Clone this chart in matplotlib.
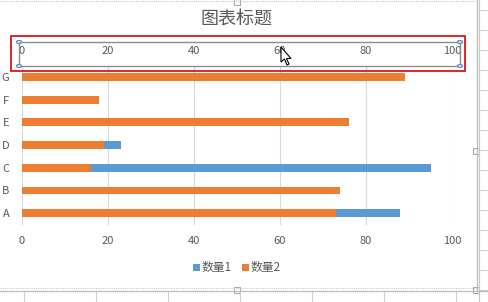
import matplotlib
matplotlib.use("Agg")
import matplotlib.pyplot as plt
from matplotlib.lines import Line2D
from matplotlib.patches import Rectangle, Circle, Polygon

plt.rcParams['font.family'] = ['Noto Sans CJK SC', 'DejaVu Sans']

categories = ["A", "B", "C", "D", "E", "F", "G"]
qty1 = [88, 60, 95, 23, 45, 12, 70]   # blue, primary axis (partly hidden)
qty2 = [73, 74, 16, 19, 76, 18, 89]   # orange, secondary axis
ticks = [0, 20, 40, 60, 80, 100]
title = "图表标题"
names = ["数量1", "数量2"]

W, H = 488, 302
BLUE = "#5B9BD5"
ORANGE = "#ED7D31"
TXT = "#595959"
GRID = "#D9D9D9"


def fx(x):
    return x / W


def fy(y):
    return 1 - y / H


fig = plt.figure(figsize=(W / 100, H / 100), dpi=100)

# spreadsheet background lines outside the chart
for yy in range(10, 302, 20):
    fig.add_artist(Line2D([fx(479), 1], [fy(yy), fy(yy)], color="#D0D0D0", lw=0.8))
fig.add_artist(Line2D([fx(479), fx(479)], [0, 1], color="#C8C8C8", lw=0.8))
for xx in range(24, 479, 72):
    fig.add_artist(Line2D([fx(xx), fx(xx)], [0, fy(291)], color="#D0D0D0", lw=0.8))
fig.add_artist(Line2D([0, fx(477)], [fy(287.5), fy(287.5)], color="#C8C8C8", lw=0.8, ls=(0, (1, 1))))
fig.add_artist(Line2D([0, 1], [fy(290.5), fy(290.5)], color="#BBBBBB", lw=0.9))
fig.add_artist(Line2D([fx(476.5), fx(476.5)], [fy(0), fy(290)], color="#BBBBBB", lw=0.9))
fig.add_artist(Line2D([0, fx(476)], [fy(1), fy(1)], color="#C8C8C8", lw=0.8, ls=(0, (1, 1))))
for (hx, hy) in [(237, 2), (476, 151), (237, 290), (476, 290)]:
    fig.add_artist(Rectangle((fx(hx - 3), fy(hy + 3)), 6 / W, 6 / H, facecolor="white",
                             edgecolor="#AAAAAA", lw=0.8))

ax = fig.add_axes([fx(22), fy(224.5), 430 / W, 158.8 / H])
y = range(len(categories))
ax.barh(y, qty1, height=0.35, color=BLUE, zorder=2)
ax.set_xlim(0, 100)
ax.set_ylim(-0.5, 6.5)
ax.set_xticks(ticks)
ax.set_yticks(list(y))
ax.set_yticklabels(categories)
ax.xaxis.grid(True, color=GRID, lw=0.8)
ax.set_axisbelow(True)
for s in ax.spines.values():
    s.set_visible(False)
ax.tick_params(axis="both", length=0, colors=TXT, labelsize=8)
ax.tick_params(axis="x", pad=8)
ax.tick_params(axis="y", pad=9)

ax2 = ax.twiny()
ax2.barh(y, qty2, height=0.35, color=ORANGE, zorder=2)
ax2.set_xlim(0, 100)
ax2.set_xticks(ticks)
for s in ax2.spines.values():
    s.set_visible(False)
ax2.tick_params(axis="x", length=0, colors=TXT, labelsize=8, pad=7)

fig.text(fx(237), fy(20), title, ha="center", va="center", fontsize=13, color=TXT)

# selected secondary axis box
fig.add_artist(Rectangle((fx(19), fy(66)), 441 / W, 24 / H, fill=False, edgecolor="#8C8C8C", lw=1.0))
fig.add_artist(Rectangle((fx(10.5), fy(70.5)), 454 / W, 34 / H, fill=False, edgecolor="#E00000", lw=1.2))
for (hx, hy) in [(19, 42), (460, 42), (19, 66), (460, 66)]:
    fig.add_artist(Circle((fx(hx), fy(hy)), 2.6 / W, facecolor="#BDD7EE", edgecolor="#6E8FB3", lw=0.8,
                          transform=fig.transFigure))

# mouse pointer
cur = [(281, 47), (281, 62), (284.5, 59), (287, 65), (289, 64), (286.5, 58.5), (291, 58.5)]
fig.add_artist(Polygon([(fx(a), fy(b)) for a, b in cur], closed=True, facecolor="white",
                       edgecolor="black", lw=0.8))

# legend
for i, (nm, c) in enumerate(zip(names, [BLUE, ORANGE])):
    x0 = 193 + i * 49
    fig.add_artist(Rectangle((fx(x0), fy(271)), 7 / W, 7 / H, facecolor=c, edgecolor="none"))
    fig.text(fx(x0 + 9), fy(267.5), nm, ha="left", va="center", fontsize=8.5, color=TXT)

fig.savefig("out.png", dpi=100)
